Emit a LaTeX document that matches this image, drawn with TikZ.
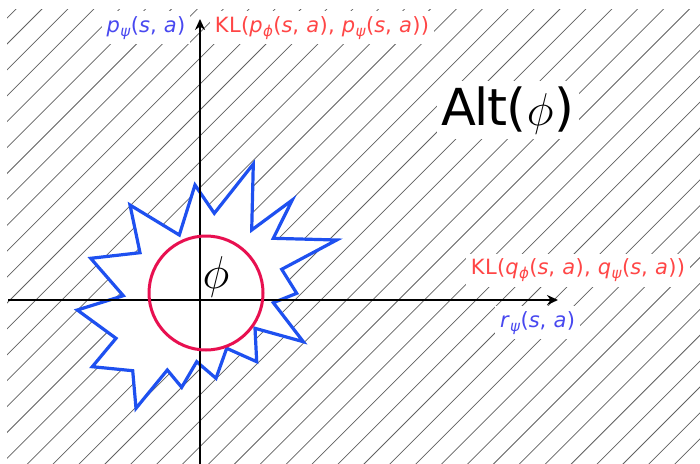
\RequirePackage{fix-cm}
\documentclass[tikz,border=0pt]{standalone}
\usepackage{fontspec}
\newfontfamily\lblfont{DejaVu Sans}[LetterSpace=2]
\newfontfamily\altfont{DejaVu Sans}[LetterSpace=-3]
\usetikzlibrary{arrows.meta}
\definecolor{lblue}{RGB}{72,72,240}
\definecolor{lred}{RGB}{255,70,70}
\definecolor{starblue}{RGB}{30,80,240}
\definecolor{circred}{RGB}{232,16,80}
\tikzset{
  hatch/.style={draw=black!62, line width=0.75pt},
  axis/.style={draw=black, line width=2pt, -{Stealth[length=11pt,width=10pt]}},
  lbl/.style={fill=white, inner sep=5pt, font=\lblfont\fontsize{21}{23}\selectfont, anchor=base},
}
\newcommand{\sv}[1]{\textit{#1}}
\newcommand{\subg}[1]{\raisebox{-0.2em}{\fontsize{15}{16}\selectfont\textit{#1}}}
\begin{document}
\begin{tikzpicture}[x=1pt,y=-1pt]
\useasboundingbox (0,0) rectangle (700,463);
\fill[white] (0,0) rectangle (700,463);
% hatching
\begin{scope}
\clip (7,9) rectangle (700,463);
\foreach \m in {-32,...,13} {
  \pgfmathsetmacro{\cc}{828+25.9*\m}
  \draw[hatch] (\cc-480,480) -- (\cc+20,-20);
}
\end{scope}
% star
\draw[fill=white, draw=starblue, line width=3.2pt, line join=miter]
 (195,185) -- (214.3,213.3) -- (253.3,164) -- (251.7,230) -- (292.3,200) -- (273.3,238.3)
 -- (336.7,240) -- (281.7,269.3) -- (296.7,293.3) -- (273.3,302.7) -- (303.3,341.7)
 -- (255,328.3) -- (256.7,361.7) -- (226.7,348.3) -- (216,378.3) -- (196.7,361.7)
 -- (181.7,387.3) -- (167.3,370) -- (136,408.3) -- (132.7,370.7) -- (92.3,366.7)
 -- (116,338.3) -- (77.3,310) -- (123.3,295.7) -- (90.7,258.3) -- (140,252.7)
 -- (130,205) -- (179.3,235) -- cycle;
% axes
\coordinate (xl) at (8,300);
\coordinate (xr) at (558,300);
\coordinate (yb) at (200,470);
\coordinate (yt) at (200,19);
\draw[axis] (xl) -- (xr);
\draw[axis] (yb) -- (yt);
% circle
\draw[draw=circred, line width=3pt] (206,293) circle[radius=57];
\node (phi) at (216,277) {\fontsize{46}{48}\selectfont$\phi$};
% labels
\node[lbl, text=lblue] (py) at (146,32) {\sv{p}\subg{ψ}(\sv{s}, \sv{a})};
\node[lbl, text=lred] (klp) at (322,32) {KL(\sv{p}\subg{ϕ}(\sv{s}, \sv{a}), \sv{p}\subg{ψ}(\sv{s}, \sv{a}))};
\node[lbl, text=lred] (klq) at (578,274.5) {KL(\sv{q}\subg{ϕ}(\sv{s}, \sv{a}), \sv{q}\subg{ψ}(\sv{s}, \sv{a}))};
\node[lbl, text=lblue] (ry) at (537.5,327) {\sv{r}\subg{ψ}(\sv{s}, \sv{a})};
\node[fill=white, inner sep=5pt, anchor=base] (alt) at (508,125)
  {\altfont\fontsize{51}{55}\selectfont Alt(\kern1pt{\fontsize{46}{48}\selectfont$\phi$}\kern1pt)};
\end{tikzpicture}
\end{document}
